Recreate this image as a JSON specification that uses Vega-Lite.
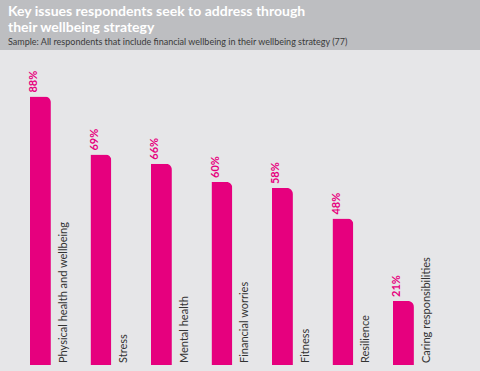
{
  "$schema": "https://vega.github.io/schema/vega-lite/v6.json",
  "width": 480,
  "height": 321,
  "autosize": {"type": "none"},
  "padding": {"top": 50, "left": 0, "right": 0, "bottom": 0},
  "background": "#bdbec1",
  "title": {
    "text": ["Key issues respondents seek to address through", "their wellbeing strategy"],
    "subtitle": "Sample: All respondents that include financial wellbeing in their wellbeing strategy (77)",
    "anchor": "start",
    "dx": 8,
    "offset": 3,
    "font": "Lato",
    "fontSize": 14,
    "fontWeight": "bold",
    "color": "#ffffff",
    "lineHeight": 16,
    "subtitleFont": "Lato",
    "subtitleFontSize": 9,
    "subtitleColor": "#3a3a3a",
    "subtitlePadding": 3
  },
  "config": {
    "view": {"fill": "#e6e6e8", "stroke": null}
  },
  "data": {
    "values": [
      {"issue": "Physical health and wellbeing", "pct": 88},
      {"issue": "Stress", "pct": 69},
      {"issue": "Mental health", "pct": 66},
      {"issue": "Financial worries", "pct": 60},
      {"issue": "Fitness", "pct": 58},
      {"issue": "Resilience", "pct": 48},
      {"issue": "Caring responsibilities", "pct": 21}
    ]
  },
  "encoding": {
    "x": {
      "field": "issue",
      "type": "nominal",
      "sort": null,
      "axis": null,
      "scale": {"paddingInner": 0, "paddingOuter": 0.467, "align": 0.18}
    },
    "y": {
      "field": "pct",
      "type": "quantitative",
      "axis": null,
      "scale": {"domain": [0, 100], "range": [315, 10], "nice": false, "zero": true}
    }
  },
  "layer": [
    {
      "mark": {"type": "bar", "width": 21, "color": "#e6007e", "cornerRadiusTopRight": 6}
    },
    {
      "mark": {"type": "text", "angle": -90, "align": "left", "baseline": "middle", "dx": 4, "dy": -6, "font": "Lato", "fontSize": 11, "fontWeight": "bold", "color": "#e6007e", "text": {"expr": "datum.pct + '%'"}}
    },
    {
      "mark": {"type": "text", "angle": -90, "align": "left", "baseline": "middle", "dx": 2, "dy": 23.5, "font": "Lato", "fontSize": 11, "color": "#333333"},
      "encoding": {"text": {"field": "issue", "type": "nominal"}, "y": {"datum": 0, "type": "quantitative"}}
    }
  ]
}
